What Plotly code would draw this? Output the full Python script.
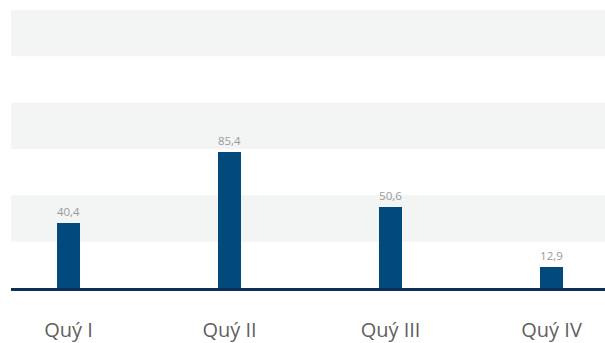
import plotly.graph_objects as go

# Quarterly figures
quarters = ["Quý I", "Quý II", "Quý III", "Quý IV"]
values = [40.4, 85.4, 50.6, 12.9]
value_labels = [f"{v:.1f}".replace(".", ",") for v in values]

BAR_COLOR = "#024a7b"
AXIS_COLOR = "#0c2f58"
BAND_COLOR = "#f3f4f4"

x_pos = list(range(len(quarters)))

fig = go.Figure(
    go.Bar(
        x=x_pos,
        y=values,
        width=0.143,
        marker=dict(color=BAR_COLOR, line=dict(width=0)),
        text=value_labels,
        textposition="outside",
        textfont=dict(family="Open Sans, sans-serif", size=13, color="#9a9a9a"),
        cliponaxis=False,
        hoverinfo="skip",
    )
)

# Alternating horizontal background bands
n_bands = 6
for i in range(n_bands):
    if i % 2 == 1:
        fig.add_shape(
            type="rect", xref="x domain", yref="y domain",
            x0=0, x1=1, y0=i / n_bands, y1=(i + 1) / n_bands,
            fillcolor=BAND_COLOR, line=dict(width=0), layer="below",
        )

fig.update_layout(
    width=605, height=343,
    margin=dict(l=11, r=0, t=10, b=50),
    paper_bgcolor="white", plot_bgcolor="white",
    showlegend=False,
    bargap=0,
    xaxis=dict(
        range=[-0.357, 3.332],
        tickmode="array", tickvals=x_pos, ticktext=quarters,
        tickfont=dict(family="Open Sans, sans-serif", size=20, color="#606060"),
        showgrid=False, zeroline=False,
        showline=True, linecolor=AXIS_COLOR, linewidth=3,
        ticks="", ticklabelstandoff=22,
        fixedrange=True,
    ),
    yaxis=dict(
        range=[0, 174],
        showgrid=False, zeroline=False, showline=False,
        showticklabels=False, ticks="",
        fixedrange=True,
    ),
)

fig.write_html("out.html")
